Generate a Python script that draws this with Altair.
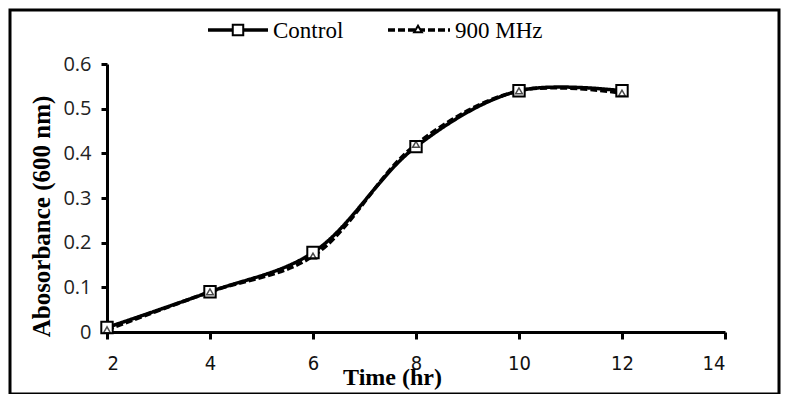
import altair as alt
import pandas as pd

times = [2, 4, 6, 8, 10, 12]
control = [0.010, 0.090, 0.178, 0.415, 0.540, 0.540]
mhz900 = [0.005, 0.090, 0.170, 0.420, 0.540, 0.535]
series_names = ["Control", "900 MHz"]

rows = []
for t, c, m in zip(times, control, mhz900):
    rows.append({"time": t, "abs": c, "series": series_names[0]})
    rows.append({"time": t, "abs": m, "series": series_names[1]})
df = pd.DataFrame(rows)

xs = alt.Scale(domain=[2, 14], nice=False, zero=False)
ys = alt.Scale(domain=[0, 0.6], nice=False)

x_enc = alt.X("time:Q", scale=xs, axis=alt.Axis(
    values=[2, 4, 6, 8, 10, 12, 14], title="Time (hr)", grid=False,
    domainWidth=3, domainColor="black", tickWidth=3, tickColor="black", tickSize=7,
    labelFont="DejaVu Sans Condensed", labelFontSize=20, labelColor="#111", labelPadding=14,
    titleFont="Liberation Serif", titleFontSize=24, titleFontWeight="bold", titleColor="black",
    titlePadding=-8, titleX=285, titleAlign="center"))
y_enc = alt.Y("abs:Q", scale=ys, axis=alt.Axis(
    values=[0, 0.1, 0.2, 0.3, 0.4, 0.5, 0.6], title="Abosorbance (600 nm)", grid=False,
    labelExpr="datum.value == 0 ? '0' : format(datum.value, '.1f')",
    domainWidth=3, domainColor="black", tickWidth=3, tickColor="black", tickSize=6,
    labelFont="Open Sans", labelFontSize=20, labelColor="#222", labelPadding=10,
    titleFont="Liberation Serif", titleFontSize=25, titleFontWeight="bold", titleColor="black",
    titlePadding=8, titleY=152))

dash_scale = alt.Scale(domain=series_names, range=[[1, 0], [7, 3]])

lines = alt.Chart(df).mark_line(color="black", strokeWidth=3.5, interpolate="catmull-rom").encode(
    x=x_enc, y=y_enc,
    strokeDash=alt.StrokeDash("series:N", scale=dash_scale, legend=None),
    detail="series:N")

ctrl_pts = alt.Chart(df[df.series == "Control"]).mark_point(
    shape="square", size=130, filled=False, color="black", strokeWidth=2, fill="white", fillOpacity=1
).encode(x="time:Q", y="abs:Q")
mhz_pts = alt.Chart(df[df.series == "900 MHz"]).mark_point(
    shape="triangle-up", size=45, filled=False, color="black", strokeWidth=1.5
).encode(x="time:Q", y="abs:Q")

# manual legend
leg = pd.DataFrame({"series": series_names})
leg_c = leg[leg.series == "Control"]
leg_m = leg[leg.series == "900 MHz"]
l1 = alt.Chart(leg_c).mark_rule(color="black", strokeWidth=3.5).encode(
    x=alt.value(101), x2=alt.value(161), y=alt.value(-34))
p1 = alt.Chart(leg_c).mark_point(shape="square", size=110, color="black", fill="white",
                                  fillOpacity=1, strokeWidth=2).encode(
    x=alt.value(131), y=alt.value(-34))
t1 = alt.Chart(leg_c).mark_text(align="left", baseline="middle", font="Liberation Serif",
                                 fontSize=23, color="black").encode(
    x=alt.value(166), y=alt.value(-33), text="series:N")
l2 = alt.Chart(leg_m).mark_rule(color="black", strokeWidth=3.5, strokeDash=[7, 3]).encode(
    x=alt.value(281), x2=alt.value(343), y=alt.value(-34))
p2 = alt.Chart(leg_m).mark_point(shape="triangle-up", size=60, color="black", fill="white",
                                  fillOpacity=1, strokeWidth=2).encode(
    x=alt.value(311), y=alt.value(-35))
t2 = alt.Chart(leg_m).mark_text(align="left", baseline="middle", font="Liberation Serif",
                                 fontSize=23, color="black").encode(
    x=alt.value(348), y=alt.value(-33), text="series:N")

border = alt.Chart(leg_c).mark_rect(fill=None, stroke="black", strokeWidth=3).encode(
    x=alt.value(-97), x2=alt.value(672), y=alt.value(-54), y2=alt.value(330))

chart = alt.layer(border, lines, ctrl_pts, mhz_pts, l1, p1, t1, l2, p2, t2).properties(
    width=618, height=268,
    padding={"left": 99, "top": 56, "right": 56, "bottom": 62},
    autosize=alt.AutoSizeParams(type="none"),
    background="white",
).configure_view(stroke=None)

chart.save("out.html", embed_options={"renderer": "svg", "actions": False})
